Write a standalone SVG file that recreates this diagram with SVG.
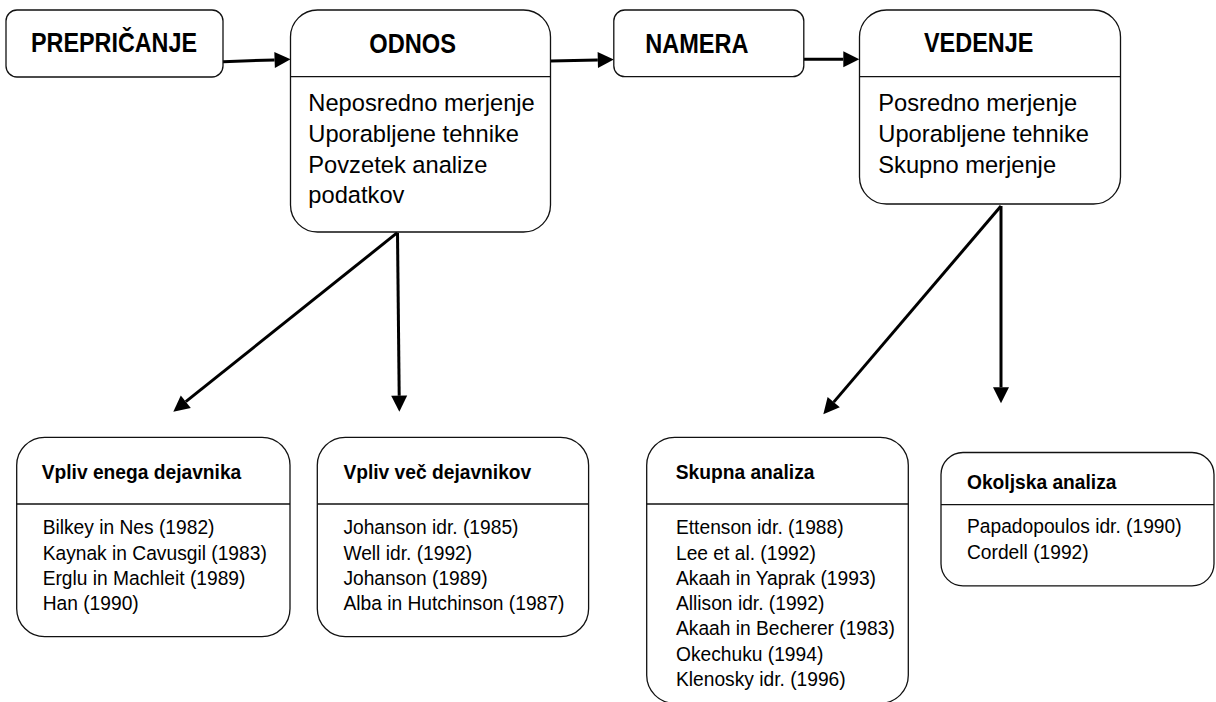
<svg xmlns="http://www.w3.org/2000/svg" width="1216" height="702" viewBox="0 0 1216 702">
<style>
.box{fill:#fff;stroke:#111;stroke-width:1.3}
.div{stroke:#111;stroke-width:1.3}
.h1{font-family:"Liberation Sans",Arial,sans-serif;font-weight:bold;font-size:27px;fill:#000}
.b1{font-family:"Liberation Sans",Arial,sans-serif;font-size:23.7px;fill:#000}
.h2{font-family:"Liberation Sans",Arial,sans-serif;font-weight:bold;font-size:20.5px;fill:#000}
.b2{font-family:"Liberation Sans",Arial,sans-serif;font-size:20.5px;fill:#000}
.conn{stroke:#000;stroke-width:3;fill:none;marker-end:url(#ah)}
</style>
<defs>
<marker id="ah" markerUnits="userSpaceOnUse" viewBox="-2 -10 20 20" markerWidth="20" markerHeight="20" refX="0" refY="0" orient="auto" overflow="visible">
<path d="M0,-8 L16,0 L0,8 Z" fill="#000"/>
</marker>
</defs>

<g id="connectors">
<line class="conn" x1="223" y1="61.7" x2="274.6" y2="59.9"/>
<line class="conn" x1="550.5" y1="61" x2="597.8" y2="59.9"/>
<line class="conn" x1="803.5" y1="59.3" x2="843.3" y2="59.3"/>
<line class="conn" x1="397.3" y1="232.7" x2="185.8" y2="401.7"/>
<line class="conn" x1="397.5" y1="232.7" x2="399.2" y2="395.7"/>
<line class="conn" x1="1001" y1="206" x2="833.7" y2="402.1"/>
<line class="conn" x1="1001" y1="206" x2="1001" y2="387.3"/>
</g>

<g id="prepricanje">
<rect class="box" x="6" y="10" width="217" height="67" rx="11" ry="11"/>
<text class="h1" x="31" y="52" textLength="166" lengthAdjust="spacingAndGlyphs">PREPRIČANJE</text>
</g>

<g id="odnos">
<rect class="box" x="290.5" y="10" width="260" height="222" rx="27" ry="27"/>
<line class="div" x1="290.5" y1="76.7" x2="550.5" y2="76.7"/>
<text class="h1" x="369.3" y="52.5" textLength="86.7" lengthAdjust="spacingAndGlyphs">ODNOS</text>
<text class="b1" x="308.3" y="111">Neposredno merjenje</text>
<text class="b1" x="308.3" y="141.8">Uporabljene tehnike</text>
<text class="b1" x="308.3" y="172.6">Povzetek analize</text>
<text class="b1" x="308.3" y="203.4">podatkov</text>
</g>

<g id="namera">
<rect class="box" x="613.8" y="10" width="190" height="66.7" rx="11" ry="11"/>
<text class="h1" x="645.2" y="53" textLength="103.3" lengthAdjust="spacingAndGlyphs">NAMERA</text>
</g>

<g id="vedenje">
<rect class="box" x="859.5" y="10" width="261" height="194" rx="27" ry="27"/>
<line class="div" x1="859.5" y1="76.7" x2="1120.5" y2="76.7"/>
<text class="h1" x="924" y="52" textLength="109.3" lengthAdjust="spacingAndGlyphs">VEDENJE</text>
<text class="b1" x="878.3" y="111">Posredno merjenje</text>
<text class="b1" x="878.3" y="141.8">Uporabljene tehnike</text>
<text class="b1" x="878.3" y="172.6">Skupno merjenje</text>
</g>

<g id="vpliv-enega">
<rect class="box" x="16.7" y="437.3" width="273.3" height="199.4" rx="28" ry="28"/>
<line class="div" x1="16.7" y1="504" x2="290" y2="504"/>
<g transform="translate(41.7 0) scale(0.937 1)">
<text class="h2" x="0" y="479">Vpliv enega dejavnika</text>
<text class="b2" x="1" y="534.3">Bilkey in Nes (1982)</text>
<text class="b2" x="1" y="559.6">Kaynak in Cavusgil (1983)</text>
<text class="b2" x="1" y="584.9">Erglu in Machleit (1989)</text>
<text class="b2" x="1" y="610.2">Han (1990)</text>
</g>
</g>

<g id="vpliv-vec">
<rect class="box" x="317.3" y="437.3" width="271.3" height="199.4" rx="28" ry="28"/>
<line class="div" x1="317.3" y1="504" x2="588.6" y2="504"/>
<g transform="translate(343.4 0) scale(0.937 1)">
<text class="h2" x="0" y="479">Vpliv več dejavnikov</text>
<text class="b2" x="0" y="534.3">Johanson idr. (1985)</text>
<text class="b2" x="0" y="559.6">Well idr. (1992)</text>
<text class="b2" x="0" y="584.9">Johanson (1989)</text>
<text class="b2" x="0" y="610.2">Alba in Hutchinson (1987)</text>
</g>
</g>

<g id="skupna">
<rect class="box" x="646.7" y="437.3" width="261.6" height="266" rx="28" ry="28"/>
<line class="div" x1="646.7" y1="504" x2="908.3" y2="504"/>
<g transform="translate(675.7 0) scale(0.937 1)">
<text class="h2" x="0" y="479">Skupna analiza</text>
<text class="b2" x="0.3" y="534.3">Ettenson idr. (1988)</text>
<text class="b2" x="0.3" y="559.6">Lee et al. (1992)</text>
<text class="b2" x="0.3" y="584.9">Akaah in Yaprak (1993)</text>
<text class="b2" x="0.3" y="610.2">Allison idr. (1992)</text>
<text class="b2" x="0.3" y="635.5">Akaah in Becherer (1983)</text>
<text class="b2" x="0.3" y="660.8">Okechuku (1994)</text>
<text class="b2" x="0.3" y="686.1">Klenosky idr. (1996)</text>
</g>
</g>

<g id="okoljska">
<rect class="box" x="941" y="452.5" width="273" height="133.3" rx="22" ry="22"/>
<line class="div" x1="941" y1="504.6" x2="1214" y2="504.6"/>
<g transform="translate(967 0) scale(0.937 1)">
<text class="h2" x="0" y="488.8">Okoljska analiza</text>
<text class="b2" x="0" y="533.5">Papadopoulos idr. (1990)</text>
<text class="b2" x="0" y="558.8">Cordell (1992)</text>
</g>
</g>
</svg>
